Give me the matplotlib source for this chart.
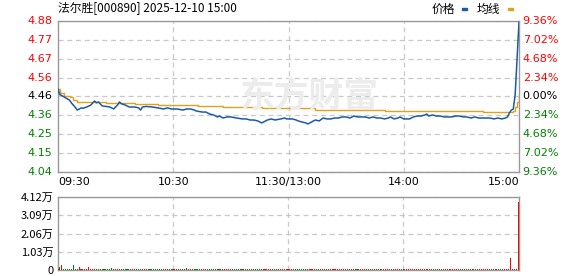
import numpy as np
import matplotlib
matplotlib.use("Agg")
import matplotlib.pyplot as plt
from matplotlib.patches import Rectangle

plt.rcParams['font.family'] = ['Noto Sans CJK SC', 'DejaVu Sans']

# ---- data ----
title = "法尔胜[000890] 2025-12-10 15:00"
prev_close = 4.46
pct_steps = [9.36, 7.02, 4.68, 2.34, 0.00, -2.34, -4.68, -7.02, -9.36]

time_labels = ["09:30", "10:30", "11:30/13:00", "14:00", "15:00"]
time_pos = [0, 60, 120, 180, 240]

# minute index (0 = 09:30, 120 = 11:30/13:00, 240 = 15:00) and price
price_min = [0, 1, 2, 4, 6, 7, 9, 10, 11, 12, 13, 15, 17, 19, 20, 21, 23, 25, 27, 29,
             31, 32, 33, 35, 37, 40, 42, 43, 44, 46, 49, 52, 55, 57, 59, 62, 65, 67, 69, 71,
             72, 75, 77, 79, 81, 83, 84, 86, 88, 90, 93, 96, 98, 100, 102, 104, 106, 107, 109, 111,
             113, 116, 118, 119, 120, 122, 124, 125, 127, 129, 130, 132, 134, 136, 138, 140, 142, 144, 146, 148,
             150, 152, 154, 156, 158, 160, 162, 164, 166, 168, 170, 172, 173, 175, 177, 178, 180, 183, 185, 187,
             189, 191, 192, 193, 195, 197, 199, 201, 203, 205, 207, 209, 211, 213, 215, 217, 219, 221, 223, 225,
             227, 229, 231, 233, 234, 235, 236, 237, 238, 239, 240]
price_val = [4.50, 4.47, 4.465, 4.452, 4.440, 4.424, 4.40, 4.385, 4.39, 4.397, 4.395, 4.402, 4.412, 4.435, 4.425, 4.430, 4.408, 4.405, 4.402, 4.391,
             4.413, 4.430, 4.420, 4.413, 4.402, 4.402, 4.397, 4.385, 4.402, 4.405, 4.402, 4.397, 4.391, 4.397, 4.391, 4.391, 4.385, 4.391, 4.391, 4.385,
             4.380, 4.374, 4.374, 4.363, 4.358, 4.347, 4.352, 4.341, 4.347, 4.347, 4.341, 4.336, 4.336, 4.330, 4.330, 4.325, 4.314, 4.319, 4.330, 4.336,
             4.330, 4.336, 4.341, 4.336, 4.336, 4.336, 4.330, 4.325, 4.319, 4.314, 4.308, 4.319, 4.330, 4.325, 4.341, 4.336, 4.336, 4.341, 4.341, 4.347,
             4.347, 4.341, 4.352, 4.347, 4.347, 4.347, 4.341, 4.347, 4.341, 4.341, 4.336, 4.341, 4.347, 4.336, 4.341, 4.347, 4.336, 4.336, 4.347, 4.352,
             4.352, 4.358, 4.363, 4.352, 4.358, 4.352, 4.352, 4.347, 4.347, 4.347, 4.352, 4.352, 4.347, 4.347, 4.341, 4.347, 4.341, 4.341, 4.341, 4.341,
             4.336, 4.341, 4.336, 4.341, 4.347, 4.369, 4.385, 4.39, 4.47, 4.67, 4.87]

# average price line
avg_min = [0, 1, 3, 6, 8, 10, 14, 25, 40, 52, 73, 86, 106, 134, 170, 221, 237, 238, 239, 240]
avg_val = [4.50, 4.48, 4.465, 4.455, 4.44, 4.432, 4.43, 4.424, 4.418, 4.413, 4.408, 4.402, 4.394, 4.388, 4.380,
           4.374, 4.38, 4.40, 4.43, 4.46]

# volume (shares): notable bars, everything else is a sliver
vol_max = 41200
vol_base = 650
vol_min = [1, 2, 8, 11, 16, 28, 67, 236, 240]
vol_val = [1700, 2800, 2800, 1700, 1700, 1100, 900, 6900, 38500]
vol_col = ['g', 'r', 'g', 'r', 'r', 'g', 'g', 'r', 'r']
vol_ticks = [0, 10300, 20600, 30900, 41200]
vol_labels = ["0", "1.03万", "2.06万", "3.09万", "4.12万"]

RED = '#ff0000'
GREEN = '#008000'
BLUE = '#1b5aa8'
ORANGE = '#e1a21b'
GRID = '#c8c8c8'
SPINE = '#999999'

W, H = 578, 276
fig = plt.figure(figsize=(W / 100, H / 100), dpi=100)

def fx(px):
    return px / W

def fy(py):
    return 1 - py / H

ax = fig.add_axes([fx(58), fy(172), fx(519) - fx(58), fy(21) - fy(172)])
axv = fig.add_axes([fx(58), fy(270), fx(519) - fx(58), fy(197) - fy(270)])

lo = prev_close * (1 + pct_steps[-1] / 100)
hi = prev_close * (1 + pct_steps[0] / 100)

# ---- price panel ----
fig.text(fx(309), fy(96), "东方财富", fontsize=25, fontweight='bold', color='#ececec',
         ha='center', va='center', zorder=0)
ax.patch.set_alpha(0)
ax.plot(avg_min, avg_val, color=ORANGE, lw=1, drawstyle='steps-post', zorder=3)
ax.plot(price_min, price_val, color=BLUE, lw=1.1, zorder=4)
ax.set_xlim(0, 240)
ax.set_ylim(lo, hi)

levels = [prev_close * (1 + p / 100) for p in pct_steps]
ax.set_yticks(levels)
ax.set_xticks(time_pos[1:-1])
ax.grid(True, color=GRID, ls=(0, (4, 3)), lw=0.9)
ax.tick_params(length=0, labelleft=False, labelbottom=False)

for p, lv in zip(pct_steps, levels):
    c = RED if p > 0 else (GREEN if p < 0 else '#000000')
    ax.text(-0.012, lv, f"{lv:.2f}", transform=ax.get_yaxis_transform(), ha='right', va='center',
            fontsize=8, color=c, family='DejaVu Sans')
    ax.text(1.008, lv, f"{abs(p):.2f}%", transform=ax.get_yaxis_transform(), ha='left', va='center',
            fontsize=8, color=c, family='DejaVu Sans')

for t, lab in zip(time_pos, time_labels):
    ha = 'left' if t == 0 else ('right' if t == 240 else 'center')
    fig.text(fx(58 + t * 461 / 240), fy(182), lab, ha=ha, va='center', fontsize=8,
             family='DejaVu Sans')

# ---- volume panel ----
minutes = np.arange(241)
vols = np.full(241, vol_base, dtype=float)
line_price = np.interp(minutes, price_min, price_val)
cols = [RED if i == 0 or line_price[i] >= line_price[i - 1] else GREEN for i in minutes]
for m, v, c in zip(vol_min, vol_val, vol_col):
    vols[m] = v
    cols[m] = RED if c == 'r' else GREEN
axv.bar(minutes, vols, width=0.55, color=cols, lw=0, antialiased=False, zorder=3)
axv.set_xlim(0, 240.5)
axv.set_ylim(0, vol_max)
axv.set_yticks(vol_ticks)
axv.set_yticklabels(vol_labels)
axv.set_xticks(time_pos[1:-1])
axv.grid(True, color=GRID, ls=(0, (4, 3)), lw=0.9)
axv.tick_params(length=0, labelbottom=False, labelsize=8, pad=3)

for a in (ax, axv):
    for s in a.spines.values():
        s.set_color(SPINE)
        s.set_linewidth(1)

# ---- header ----
fig.text(fx(58), fy(8), title, ha='left', va='center', fontsize=8.5)
fig.text(fx(432), fy(9), "价格", ha='left', va='center', fontsize=8.5)
fig.text(fx(477), fy(9), "均线", ha='left', va='center', fontsize=8.5)
fig.patches.append(Rectangle((fx(462), fy(10)), fx(5), 2 / H, color=BLUE, transform=fig.transFigure))
fig.patches.append(Rectangle((fx(508), fy(10)), fx(5), 2 / H, color=ORANGE, transform=fig.transFigure))

fig.savefig("out.png", dpi=100)
